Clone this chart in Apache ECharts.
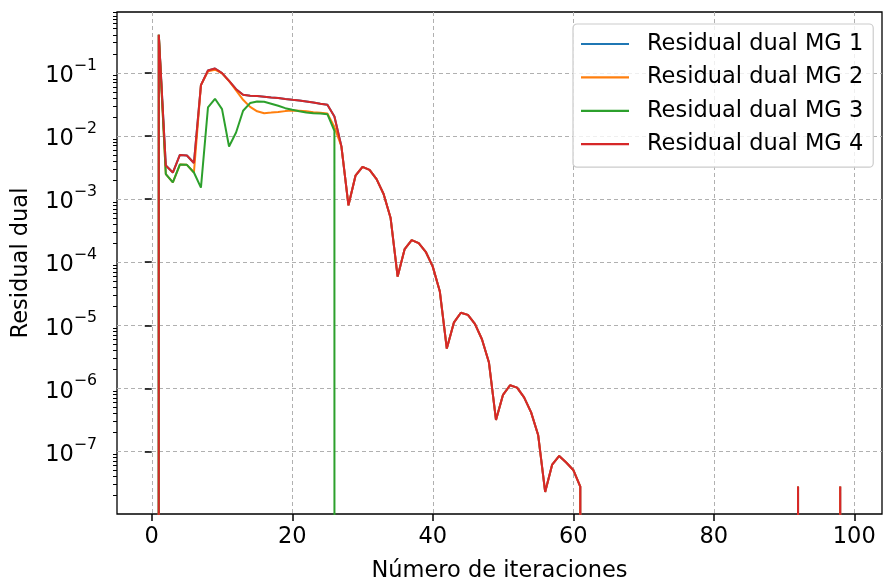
<!DOCTYPE html>
<html><head><meta charset="utf-8">
<script src="https://cdn.jsdelivr.net/npm/echarts@6/dist/echarts.min.js"></script>
<style>html,body{margin:0;padding:0;background:#fff}#c{width:883px;height:588px}</style>
</head><body><div id="c"></div>
<script>
// Iteration index (x)
const iterations = [
  0,1,2,3,4,5,6,7,8,9,10,11,12,13,14,15,16,17,18,19,
  20,21,22,23,24,25,26,27,28,29,30,31,32,33,34,35,36,37,38,39,
  40,41,42,43,44,45,46,47,48,49,50,51,52,53,54,55,56,57,58,59,
  60,61,62,63,64,65,66,67,68,69,70,71,72,73,74,75,76,77,78,79,
  80,81,82,83,84,85,86,87,88,89,90,91,92,93,94,95,96,97,98,99
];
const seriesNames = ['Residual dual MG 1','Residual dual MG 2','Residual dual MG 3','Residual dual MG 4'];
// Residual values (0 = non-positive, clipped on log scale)
const mg1 = [
  0,0.40,3.40e-3,2.63e-3,5.0e-3,4.9e-3,3.72e-3,0.0638,0.1087,0.117,
  0.0989,0.0746,0.055,0.0448,0.0432,0.0427,0.0417,0.0407,0.0398,0.0385,
  0.0373,0.0363,0.0351,0.0339,0.0324,0.0311,0.0203,6.79e-3,7.94e-4,2.34e-3,
  3.24e-3,2.90e-3,2.07e-3,1.20e-3,5.0e-4,5.92e-5,1.61e-4,2.23e-4,2.0e-4,1.46e-4,
  8.5e-5,3.47e-5,4.28e-6,1.10e-5,1.58e-5,1.46e-5,1.05e-5,6.0e-6,2.57e-6,3.16e-7,
  7.9e-7,1.12e-6,1.03e-6,7.2e-7,4.17e-7,1.83e-7,2.29e-8,6.2e-8,8.5e-8,6.7e-8,
  5.1e-8,2.78e-8,0,0,0,0,0,0,0,0,
  0,0,0,0,0,0,0,0,0,0,
  0,0,0,0,0,0,0,0,0,0,
  0,0,2.8e-8,0,0,0,0,0,2.8e-8,0
];
const mg2 = [
  0,0.40,2.48e-3,1.83e-3,3.52e-3,3.48e-3,2.63e-3,0.0638,0.106,0.112,
  0.0977,0.0741,0.0525,0.0373,0.0288,0.0245,0.0229,0.0234,0.0240,0.0247,
  0.0253,0.0251,0.0245,0.0237,0.0232,0.0226,0.0138,6.79e-3,7.94e-4,2.34e-3,
  3.24e-3,2.90e-3,2.07e-3,1.20e-3,5.0e-4,5.92e-5,1.61e-4,2.23e-4,2.0e-4,1.46e-4,
  8.5e-5,3.47e-5,4.28e-6,1.10e-5,1.58e-5,1.46e-5,1.05e-5,6.0e-6,2.57e-6,3.16e-7,
  7.9e-7,1.12e-6,1.03e-6,7.2e-7,4.17e-7,1.83e-7,2.29e-8,6.2e-8,8.5e-8,6.7e-8,
  5.1e-8,2.78e-8,0,0,0,0,0,0,0,0,
  0,0,0,0,0,0,0,0,0,0,
  0,0,0,0,0,0,0,0,0,0,
  0,0,2.8e-8,0,0,0,0,0,2.8e-8,0
];
const mg3 = [
  0,0.40,2.48e-3,1.83e-3,3.52e-3,3.48e-3,2.63e-3,1.52e-3,0.0282,0.0387,
  0.0266,6.79e-3,0.0113,0.0250,0.0331,0.0351,0.0347,0.0324,0.0300,0.0275,
  0.0259,0.0245,0.0234,0.0229,0.0226,0.0221,0.0120,0,0,0,
  0,0,0,0,0,0,0,0,0,0,
  0,0,0,0,0,0,0,0,0,0,
  0,0,0,0,0,0,0,0,0,0,
  0,0,0,0,0,0,0,0,0,0,
  0,0,0,0,0,0,0,0,0,0,
  0,0,0,0,0,0,0,0,0,0,
  0,0,0,0,0,0,0,0,0,0
];
const mg4 = [
  0,0.40,3.40e-3,2.63e-3,5.0e-3,4.9e-3,3.72e-3,0.0638,0.1087,0.117,
  0.0989,0.0746,0.055,0.0448,0.0432,0.0427,0.0417,0.0407,0.0398,0.0385,
  0.0373,0.0363,0.0351,0.0339,0.0324,0.0311,0.0203,6.79e-3,7.94e-4,2.34e-3,
  3.24e-3,2.90e-3,2.07e-3,1.20e-3,5.0e-4,5.92e-5,1.61e-4,2.23e-4,2.0e-4,1.46e-4,
  8.5e-5,3.47e-5,4.28e-6,1.10e-5,1.58e-5,1.46e-5,1.05e-5,6.0e-6,2.57e-6,3.16e-7,
  7.9e-7,1.12e-6,1.03e-6,7.2e-7,4.17e-7,1.83e-7,2.29e-8,6.2e-8,8.5e-8,6.7e-8,
  5.1e-8,2.78e-8,0,0,0,0,0,0,0,0,
  0,0,0,0,0,0,0,0,0,0,
  0,0,0,0,0,0,0,0,0,0,
  0,0,2.8e-8,0,0,0,0,0,2.8e-8,0
];
const colors = ['#1f77b4','#ff7f0e','#2ca02c','#d62728'];
const xTicks = [0,20,40,60,80,100];
const yDecades = [-7,-6,-5,-4,-3,-2,-1];
const xRange = [-4.95, 103.95];
const yRangeLog = [-7.99, -0.037];

const FONT = 'DejaVu Sans';
const FS = 22.5;
// minor tick positions (log10 of k*10^n)
const minorTicks = [];
for (let n = -9; n <= 0; n++) for (let k = 2; k <= 9; k++) {
  const v = n + Math.log10(k);
  if (v > yRangeLog[0] && v < yRangeLog[1]) minorTicks.push(v);
}
const toLog = v => v > 0 ? Math.log10(v) : -1000;
const allSeries = [mg1, mg2, mg3, mg4];

const chart = echarts.init(document.getElementById('c'), null, {renderer: 'canvas'});
chart.setOption({
  animation: false,
  backgroundColor: '#fff',
  grid: {left: 117, right: 1, top: 12, bottom: 73, show: true, borderColor: '#000', borderWidth: 1.3, backgroundColor: 'transparent'},
  legend: {
    orient: 'vertical', left: 573, top: 24,
    padding: [7, 10, 10, 8],
    itemWidth: 48, itemHeight: 2.2, itemGap: 7.4,
    icon: 'rect',
    backgroundColor: 'rgba(255,255,255,0.8)',
    borderColor: '#cccccc', borderWidth: 1.2, borderRadius: 4,
    textStyle: {fontFamily: FONT, fontSize: FS, color: '#000', lineHeight: 26, padding: [0, 0, 0, 13]},
    data: seriesNames
  },
  xAxis: {
    type: 'value', min: xRange[0], max: xRange[1],
    minInterval: 20, maxInterval: 20,
    name: 'Número de iteraciones', nameLocation: 'middle', nameGap: 46,
    nameTextStyle: {fontFamily: FONT, fontSize: FS, color: '#000'},
    axisLine: {show: false},
    axisTick: {show: true, customValues: xTicks, length: 7, lineStyle: {color: '#000', width: 1.5}},
    axisLabel: {customValues: xTicks, fontFamily: FONT, fontSize: FS, color: '#000', margin: 12},
    splitLine: {show: true, lineStyle: {color: '#b0b0b0', width: 1, type: [4, 3]}}
  },
  yAxis: [{
    type: 'value', min: yRangeLog[0], max: yRangeLog[1],
    minInterval: 1, maxInterval: 1, splitNumber: 8,
    name: 'Residual dual', nameLocation: 'middle', nameGap: 84, nameRotate: 90,
    nameTextStyle: {fontFamily: FONT, fontSize: FS, color: '#000'},
    axisLine: {show: false},
    axisTick: {show: true, customValues: yDecades, length: 7, lineStyle: {color: '#000', width: 1.5}},
    axisLabel: {
      customValues: yDecades, margin: 20,
      formatter: v => '{b|10}{s|\u2212' + Math.round(-v) + '}',
      rich: {
        b: {fontFamily: FONT, fontSize: FS, color: '#000', lineHeight: 30, verticalAlign: 'bottom'},
        s: {fontFamily: FONT, fontSize: 15.75, color: '#000', lineHeight: 30, verticalAlign: 'top'}
      }
    },
    splitLine: {show: true, lineStyle: {color: '#b0b0b0', width: 1, type: [4, 3]}}
  }, {
    type: 'value', min: yRangeLog[0], max: yRangeLog[1], position: 'left',
    axisLine: {show: false}, axisLabel: {show: false}, splitLine: {show: false},
    axisTick: {show: true, customValues: minorTicks, length: 4, lineStyle: {color: '#000', width: 1}}
  }],
  series: allSeries.map((arr, i) => ({
    name: seriesNames[i], type: 'line', yAxisIndex: 0,
    data: iterations.map((x, j) => [x, toLog(arr[j])]),
    showSymbol: false, symbol: 'none', clip: true,
    lineStyle: {color: colors[i], width: 2},
    itemStyle: {color: colors[i]},
    z: 2 + i
  }))
});
</script></body></html>
